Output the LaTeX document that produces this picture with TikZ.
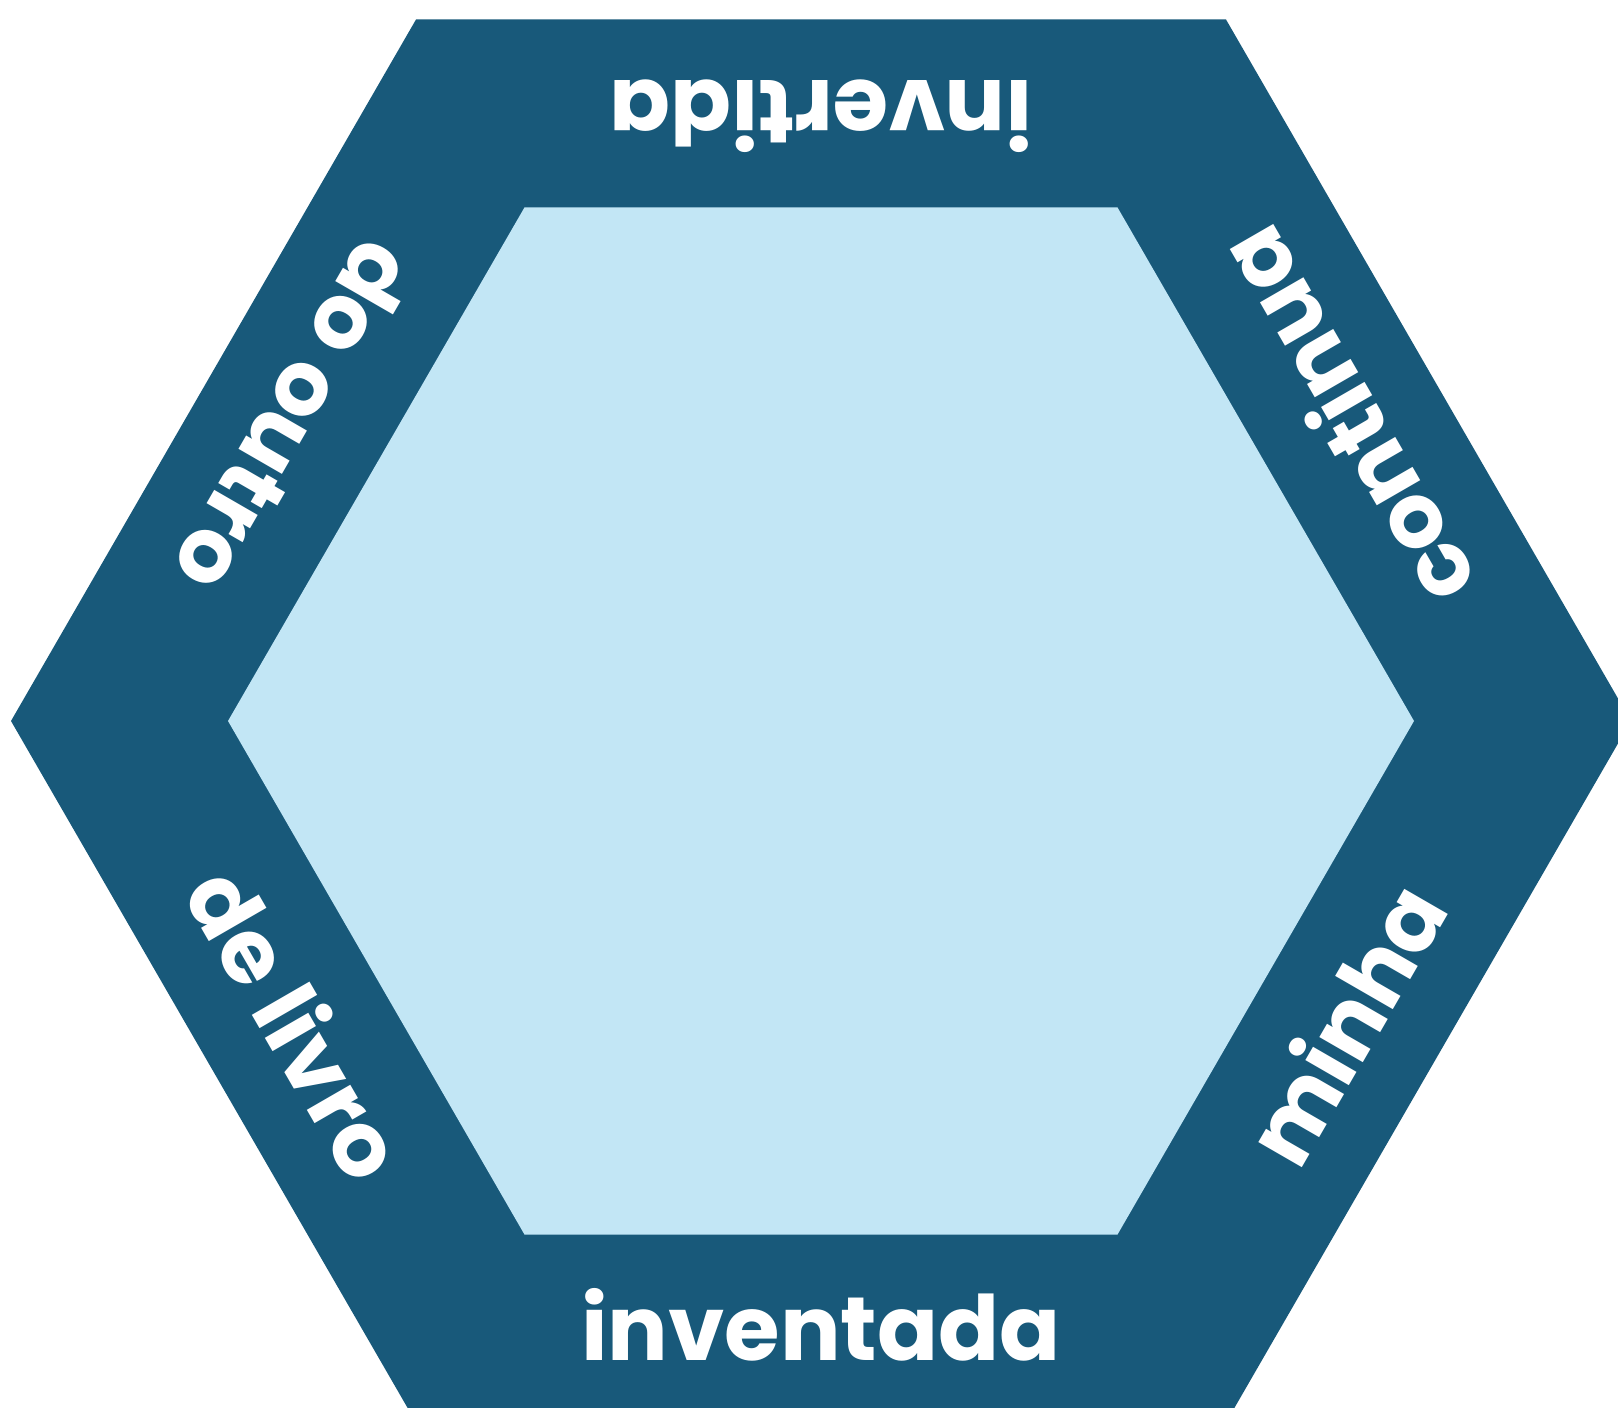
\documentclass[tikz,border=0pt]{standalone}
\usepackage{fontspec}
\setmainfont{Poppins}
\usepackage{tikz}
\usetikzlibrary{positioning}
\definecolor{hexdark}{HTML}{18597A}
\definecolor{hexlight}{HTML}{C2E6F5}
\tikzset{
  sidelabel/.style={text=white, font=\fontsize{90}{104}\selectfont\bfseries,
    anchor=base, inner sep=0pt}
}
\begin{document}
\begin{tikzpicture}[x=1pt,y=1pt]
\useasboundingbox (0,0) rectangle (1618,1408);
\clip (0,0) rectangle (1618,1408);
\begin{scope}[shift={(821,687)}]
% outer and inner hexagon
\fill[hexdark] (0:810) \foreach \a in {60,120,...,300} { -- (\a:810) } -- cycle;
\fill[hexlight] (0:593) \foreach \a in {60,120,...,300} { -- (\a:593) } -- cycle;
% words round the ring
\node[sidelabel, rotate=0] (inventada) at (-90:640) {inventada};
\node[sidelabel, rotate=60] (minha) at (-30:640) {minha};
\node[sidelabel, rotate=120] (continua) at (30:640) {continua};
\node[sidelabel, rotate=180] (invertida) at (90:640) {invertida};
\node[sidelabel, rotate=240] (dooutro) at (150:640) {do outro};
\node[sidelabel, rotate=300] (delivro) at (210:640) {de livro};
\end{scope}
\end{tikzpicture}
\end{document}
